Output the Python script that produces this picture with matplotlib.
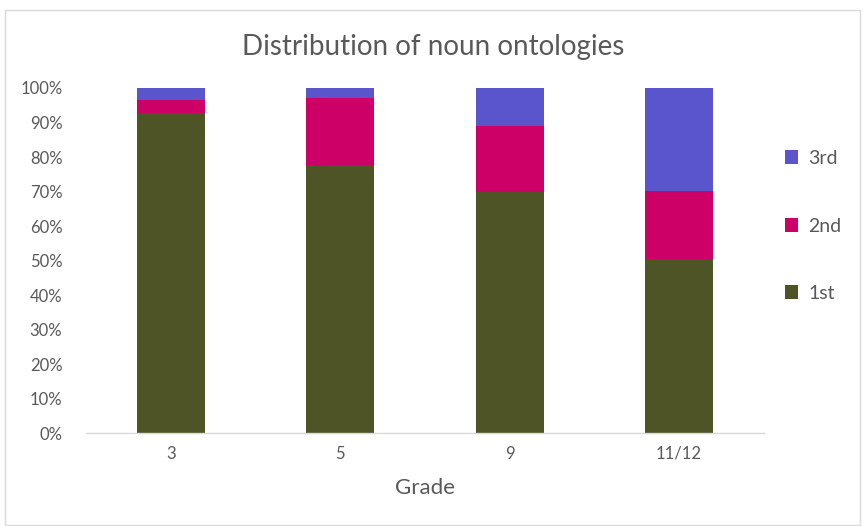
import numpy as np
import matplotlib
matplotlib.use("Agg")
import matplotlib.pyplot as plt
from matplotlib.patches import Rectangle
from matplotlib.ticker import PercentFormatter

# data (percent of each grade)
grades = ["3", "5", "9", "11/12"]
first = [92.8, 77.7, 69.9, 50.4]
second = [3.7, 19.4, 19.1, 19.7]
third = [3.5, 2.9, 11.0, 29.9]

colors = {"1st": "#4E5426", "2nd": "#CC0066", "3rd": "#5A55CC"}
gray = "#595959"

plt.rcParams["font.family"] = ["Lato", "DejaVu Sans"]

fig = plt.figure(figsize=(8.66, 5.26), dpi=100)
ax = fig.add_axes([0.0993, 0.1768, 0.7827, 0.6559])

x = np.arange(len(grades))
w = 0.4
b1 = ax.bar(x, first, w, color=colors["1st"], label="1st")
b2 = ax.bar(x, second, w, bottom=first, color=colors["2nd"], label="2nd")
bottom3 = np.array(first) + np.array(second)
b3 = ax.bar(x, third, w, bottom=bottom3, color=colors["3rd"], label="3rd")

ax.set_xlim(-0.5, len(grades) - 0.5)
ax.set_ylim(0, 100)
ax.set_yticks(np.arange(0, 101, 10))
ax.yaxis.set_major_formatter(PercentFormatter(decimals=0))
ax.set_xticks(x)
ax.set_xticklabels(grades)
ax.tick_params(axis="both", length=0, labelsize=12, colors=gray)
ax.tick_params(axis="x", pad=9)
ax.tick_params(axis="y", pad=17)

for s in ["top", "right", "left"]:
    ax.spines[s].set_visible(False)
ax.spines["bottom"].set_color("#D9D9D9")
ax.spines["bottom"].set_linewidth(1)

ax.set_xlabel("Grade", fontsize=16, color=gray, labelpad=12)
fig.text(0.5, 0.91, "Distribution of noun ontologies", ha="center", va="center",
         fontsize=20, color=gray)

leg = ax.legend(handles=[b3, b2, b1], loc="center left", bbox_to_anchor=(1.005, 0.6),
                frameon=False, fontsize=14, labelcolor=gray, handlelength=0.7,
                handleheight=0.7, handletextpad=0.5, labelspacing=2.6)

# chart area border
fig.patches.append(Rectangle((5 / 866, 1 / 526), 855 / 866, 515 / 526,
                             transform=fig.transFigure, fill=False,
                             edgecolor="#D9D9D9", linewidth=1))

fig.savefig("out.png", dpi=100, facecolor="white")
